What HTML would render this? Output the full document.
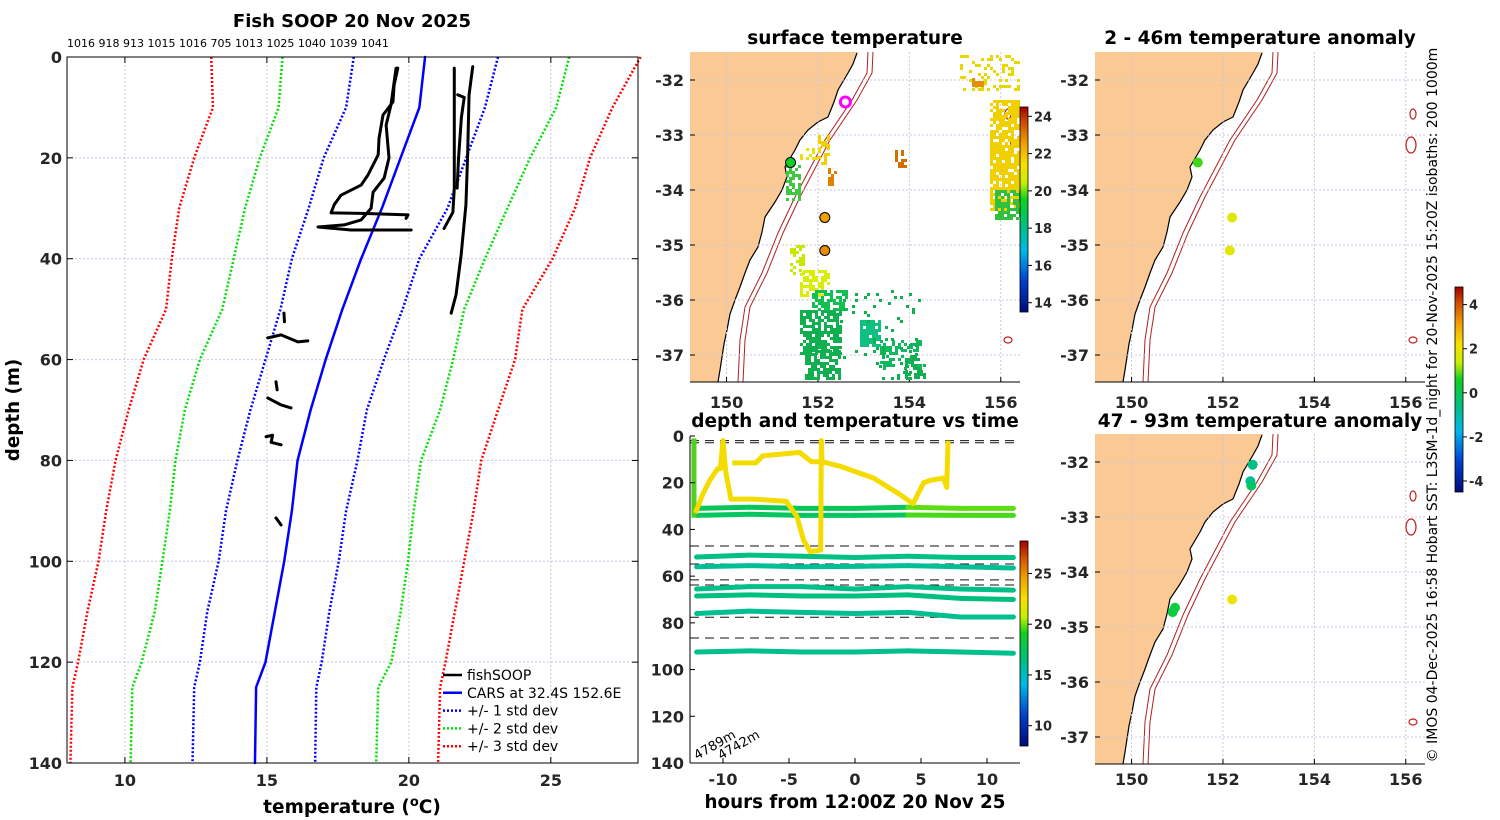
<!DOCTYPE html>
<html><head><meta charset="utf-8"><style>
html,body{margin:0;padding:0;background:#fff;}
svg{display:block;font-family:"DejaVu Sans","Liberation Sans",sans-serif;}
.t{font-weight:bold;fill:#262626;font-size:16px;}
.ti{font-weight:bold;fill:#000;font-size:16px;}
.n{font-weight:normal;fill:#000;}
</style></head><body>
<svg id="fig" width="1500" height="820" viewBox="0 0 1500 820" xmlns="http://www.w3.org/2000/svg">
<defs>
<linearGradient id="cmap" x1="0" y1="1" x2="0" y2="0">
<stop offset="0" stop-color="#000a78"/><stop offset="0.15" stop-color="#0040d0"/><stop offset="0.3" stop-color="#00b8e8"/>
<stop offset="0.42" stop-color="#00c080"/><stop offset="0.55" stop-color="#10d020"/><stop offset="0.63" stop-color="#c8f000"/>
<stop offset="0.72" stop-color="#f8e000"/><stop offset="0.82" stop-color="#f0a000"/><stop offset="0.92" stop-color="#d05000"/><stop offset="1" stop-color="#a00000"/>
</linearGradient>
</defs>
</svg>
<script>
// ---------- data ----------
const profDepth = [0,10,20,30,40,50,60,70,80,90,100,110,120,125,140];
const carsMean  = [20.57,20.37,19.71,19.05,18.32,17.66,17.07,16.54,16.08,15.88,15.61,15.28,14.95,14.62,14.58];
const std1Low   = [18.06,17.79,17.0,16.47,15.88,15.48,14.95,14.42,13.96,13.56,13.30,12.90,12.64,12.44,12.38];
const std1High  = [23.14,22.68,22.02,21.36,20.37,19.78,19.12,18.52,18.19,17.79,17.53,17.20,16.93,16.74,16.70];
const std2Low   = [15.55,15.41,14.75,14.23,13.83,13.43,12.64,12.11,11.78,11.58,11.32,11.05,10.59,10.26,10.20];
const std2High  = [25.65,25.19,24.27,23.47,22.68,21.95,21.56,21.10,20.43,20.17,19.97,19.71,19.38,18.92,18.85];
const std3Low   = [13.04,13.10,12.44,11.91,11.65,11.45,10.66,10.13,9.67,9.34,9.07,8.68,8.35,8.15,8.08];
const std3High  = [28.16,27.17,26.38,25.85,25.06,24.00,23.74,23.14,22.55,22.28,21.95,21.62,21.29,21.10,21.03];
const fishTemps = [
 [19.61,19.48,19.44,19.09,18.95,18.92,18.56,18.32,17.61,17.37,17.26,18.32,19.97,19.9],
 [19.55,19.37,19.2,19.3,19.13,18.74,18.67,18.32,17.72,16.8,17.96,20.08],
 [21.6,21.6,21.6,21.55,21.24],
 [22.25,22.12,22.07,22.01,21.84,21.66,21.49],
 [21.72,21.95,21.85,21.75,21.7],
 [15.6,15.62],[15.03,15.5,16.09,16.44],[15.32,15.36],[15.03,15.5,15.85],[14.97,15.2,15.15,15.5],[15.32,15.5]
];
const fishDepths = [
 [2.2,5.6,8.9,11.5,16.1,19.4,23.4,25.4,27.4,29.3,30.9,31,31.3,32],
 [2.2,9.5,13.5,20,24,26.8,30,32.3,33.3,33.7,34.3,34.3],
 [2.2,14,26,30.8,34],
 [1.9,7.5,19.4,29.3,39.3,47.2,50.8],
 [7.5,8,12,20,26],
 [50.8,52.5],[55.7,55.1,56.5,56.3],[64.4,66],[67.6,69,69.6],[75.3,75,76.4,76.9],[91.4,92.8]
];
const sensorHours = [-12,-8,-4,0,4,8,12];
const sensorDepths = [
 [31,30.5,31,31,30.5,31,31],
 [34,33.5,34,34,33.8,34,34],
 [51.8,51,51.5,52,51.5,52,52],
 [56,55.5,56,55.8,55.5,56,56.5],
 [65.5,64.5,64.5,65.5,64.5,65.5,66],
 [68.5,68,68.5,68.5,68,69.5,70],
 [76,75,75.5,76,75.5,77.5,77.5],
 [92.5,92,92.5,92.5,92,92.5,93]
];
const sensorTempsStart = [17.6,17.4,16.4,16.0,16.3,16.5,16.1,16.2];
const sensorTempsEnd   = [19.8,19.6,16.4,16.0,16.3,16.5,16.1,16.2];
const yellowHours  = [-12.1,-11.5,-11,-10.4,-10.2,-10,-9.8,-9.4,-7.7,-5.2,-4.4,-3.9,-3.4,-2.6,-2.55,-2.5,-1.1,1.4,3.4,4.4,5.2,5.7,6.7,6.95,7.05];
const yellowDepths = [33,24.5,19,14,14,2,15,27,27,28,34.5,44.5,49.5,48.8,2,11,13,18,25,29,20,19,18,22,2];
const yellow2Hours  = [-9.3,-7.5,-7,-4.2,-3.3,-2.5];
const yellow2Depths = [11.5,11.5,8.5,7,11,11];
const dashDepths = [2,2.9,47.1,54.8,61.6,63.8,77.6,86.5];
const sstLon = [152.6,151.4,152.15,152.15];
const sstLat = [-32.4,-33.5,-34.5,-35.1];
const sstVal = [null,19.5,22.5,22.8];
const anomTopLon=[151.45,152.2,152.15], anomTopLat=[-33.5,-34.5,-35.1], anomTopVal=[0.8,1.8,1.8];
const anomBotLon=[152.65,152.6,152.62,150.9,150.95,152.2], anomBotLat=[-32.05,-32.35,-32.43,-34.73,-34.65,-34.5], anomBotVal=[-0.6,-0.9,-0.3,0.2,0.2,2];
const tempTicks=[10,15,20,25], depthTicks=[0,20,40,60,80,100,120,140];
const hourTicks=[-10,-5,0,5,10], lonTicks=[150,152,154,156], latTicks=[-32,-33,-34,-35,-36,-37];
const headerNums="1016 918 913 1015 1016 705 1013 1025 1040 1039 1041";

// ---------- helpers ----------
const svg=document.getElementById('fig');
const NS='http://www.w3.org/2000/svg';
function mk(tag,at,parent){const e=document.createElementNS(NS,tag);for(const k in at)e.setAttribute(k,at[k]);(parent||svg).appendChild(e);return e;}
function txt(x,y,s,cls,anchor,extra){extra=Object.assign({},extra||{});if(extra['font-size']){extra.style='font-size:'+extra['font-size'];delete extra['font-size'];}
 const e=mk('text',Object.assign({x:x,y:y,class:cls,'text-anchor':anchor||'middle'},extra));e.textContent=s;return e;}
const stops=[[0,[0,10,120]],[0.15,[0,64,208]],[0.3,[0,184,232]],[0.42,[0,192,128]],[0.55,[16,208,32]],[0.63,[200,240,0]],[0.72,[248,224,0]],[0.82,[240,160,0]],[0.92,[208,80,0]],[1,[160,0,0]]];
function cm(f){f=Math.max(0,Math.min(1,f));for(let i=1;i<stops.length;i++){if(f<=stops[i][0]){const a=stops[i-1],b=stops[i],t=(f-a[0])/(b[0]-a[0]);return 'rgb('+a[1].map((v,j)=>Math.round(v+(b[1][j]-v)*t)).join(',')+')';}}return 'rgb(160,0,0)';}

// ---------- left profile panel ----------
const L={x0:67,x1:638,y0:57,y1:763,tmin:7.96,tmax:28.07,dmax:140};
const lx=t=>L.x0+(t-L.tmin)/(L.tmax-L.tmin)*(L.x1-L.x0);
const ly=d=>L.y0+d/L.dmax*(L.y1-L.y0);
let g=mk('g',{});


tempTicks.forEach(t=>{mk('line',{x1:lx(t),x2:lx(t),y1:L.y0,y2:L.y1,stroke:'#c8c8e0','stroke-dasharray':'2,2','stroke-width':1},g);
 mk('line',{x1:lx(t),x2:lx(t),y1:L.y1,y2:L.y1-6,stroke:'#000'},g);mk('line',{x1:lx(t),x2:lx(t),y1:L.y0,y2:L.y0+6,stroke:'#000'},g);
 const e=txt(lx(t),786,String(t),'t');});
depthTicks.forEach(d=>{if(d>0&&d<140)mk('line',{x1:L.x0,x2:L.x1,y1:ly(d),y2:ly(d),stroke:'#c8c8e0','stroke-dasharray':'2,2'},g);
 mk('line',{x1:L.x0,x2:L.x0+6,y1:ly(d),y2:ly(d),stroke:'#000'},g);mk('line',{x1:L.x1,x2:L.x1-6,y1:ly(d),y2:ly(d),stroke:'#000'},g);
 const e=txt(62,ly(d)+6,String(d),'t','end');});
function pline(ts,ds,col,w,dash,parent,name){const p=mk('polyline',{points:ts.map((t,i)=>lx(t)+','+ly(ds[i])).join(' '),fill:'none',stroke:col,'stroke-width':w,'stroke-linejoin':'round','stroke-linecap':dash?'butt':'round'},parent);if(dash)p.setAttribute('stroke-dasharray',dash);return p;}
pline(std3Low,profDepth,'#ff0000',2.5,'2,2',g,'std-dev-3-low');
pline(std3High,profDepth,'#ff0000',2.5,'2,2',g,'std-dev-3-high');
pline(std2Low,profDepth,'#00e000',2.5,'2,2',g,'std-dev-2-low');
pline(std2High,profDepth,'#00e000',2.5,'2,2',g,'std-dev-2-high');
pline(std1Low,profDepth,'#0000ff',2.5,'2,2',g,'std-dev-1-low');
pline(std1High,profDepth,'#0000ff',2.5,'2,2',g,'std-dev-1-high');
pline(carsMean,profDepth,'#0000ff',2.5,null,g,'cars-mean-line');
fishTemps.forEach((ts,i)=>pline(ts,fishDepths[i],'#000',3,null,g,'fishsoop-profile'));
mk('rect',{x:L.x0,y:L.y0,width:L.x1-L.x0,height:L.y1-L.y0,fill:'none',stroke:'#000','stroke-width':1},g);
let e=txt(352,27,'Fish SOOP 20 Nov 2025','ti','middle',{'font-size':'18px'});
e=txt(67,47,headerNums,'n','start',{'font-size':'11px'});
e=txt(19,410,'depth (m)','ti','middle',{transform:'rotate(-90 19 410)','font-size':'18.3px'});
e=mk('text',{x:352,y:813,class:'ti','text-anchor':'middle',style:'font-size:18.5px'});e.innerHTML='temperature (<tspan dy="-7" style="font-size:13px">o</tspan><tspan dy="7">C)</tspan>';

// legend
const lg=mk('g',{});


[['fishSOOP','#000',null],['CARS at 32.4S 152.6E','#0000ff',null],['+/- 1 std dev','#0000ff','2,2'],['+/- 2 std dev','#00e000','2,2'],['+/- 3 std dev','#ff0000','2,2']].forEach((r,i)=>{
 const y=675+i*17.8;const l=mk('line',{x1:443,x2:462,y1:y,y2:y,stroke:r[1],'stroke-width':2.5},lg);if(r[2])l.setAttribute('stroke-dasharray',r[2]);
 const t=txt(467,y+5,r[0],'n','start',{'font-size':'14px'});lg.appendChild(t);});

// ---------- maps ----------
const coast=[[0,0],[170,0],[167,1],[163,12],[158,21],[148,38],[144,50],[138,65],[128,70],[118,78],[110,88],[105,98],[95,115],[97,125],[92,138],[85,150],[75,165],[72,180],[68,195],[60,208],[55,221],[50,235],[45,248],[40,262],[37,278],[34,292],[32,305],[30,318],[28,330],[0,330]];
const iso=[[178,0],[177,21],[162,48],[135,88],[105,145],[88,181],[72,221],[55,255],[50,288],[48,330]];
function drawMap(ox,oy,name,lonY){
 const G=mk('g',{});
 const mx=lon=>ox+(lon-149.2)*45.7, my=lat=>oy+28+(-32-lat)*55;
 mk('polygon',{points:coast.map(p=>(ox+p[0])+','+(oy+p[1])).join(' '),fill:'#fbc994',stroke:'none'},G);
 mk('polyline',{points:coast.slice(2,-1).map(p=>(ox+p[0])+','+(oy+p[1])).join(' '),fill:'none',stroke:'#000','stroke-width':1.2},G);
 [0,5].forEach(d=>mk('polyline',{points:iso.map(p=>(ox+p[0]+d)+','+(oy+p[1])).join(' '),fill:'none',stroke:'#b02020','stroke-width':1},G));
 lonTicks.forEach(l=>{mk('line',{x1:mx(l),x2:mx(l),y1:oy,y2:oy+330,stroke:'#c8c8e0','stroke-dasharray':'2,2'},G);mk('line',{x1:mx(l),x2:mx(l),y1:oy+330,y2:oy+325,stroke:'#000'},G);
  const t=txt(mx(l),lonY,String(l),'t');});
 latTicks.forEach(l=>{mk('line',{x1:ox,x2:ox+330,y1:my(l),y2:my(l),stroke:'#c8c8e0','stroke-dasharray':'2,2'},G);mk('line',{x1:ox,x2:ox+5,y1:my(l),y2:my(l),stroke:'#000'},G);
  const t=txt(ox-6,my(l)+6,String(l),'t','end');});
 [[318,62,3,5],[316,93,5,8],[318,288,4,3]].forEach(c=>mk('ellipse',{cx:ox+c[0],cy:oy+c[1],rx:c[2],ry:c[3],fill:'none',stroke:'#c02020','stroke-width':1.2},G));
 mk('line',{x1:ox,x2:ox+330,y1:oy+330,y2:oy+330,stroke:'#000'},G);
 return {G,mx,my};
}
const m1=drawMap(690,52,'sst-map',408);
const m2=drawMap(1095,52,'anomaly-map-2-46m',408);
const m3=drawMap(1095,434,'anomaly-map-47-93m',785);
// SST satellite pixel patches (speckled imagery)
const sstPatches=[[990,100,30,110,'#f0d000',0.8],[960,55,60,35,'#e8d800',0.25],[972,78,10,8,'#e09000',0.8],[995,190,25,30,'#30c040',0.7],[895,150,12,18,'#d07000',0.5],[828,165,8,20,'#e08000',0.5],[818,135,12,30,'#f0d000',0.5],[786,165,14,35,'#40c840',0.6],[800,148,20,12,'#f0e000',0.4],[790,245,14,30,'#c8e800',0.5],[800,270,30,25,'#d8f000',0.6],[812,290,35,20,'#10c050',0.6],[800,310,40,45,'#10b050',0.75],[805,350,35,30,'#10b050',0.75],[860,320,20,25,'#10c080',0.8],[880,340,40,30,'#10b860',0.45],[905,355,20,22,'#10b050',0.5],[840,290,80,90,'#10b050',0.08]];
function hsh(a,b){let h=(a*374761393+b*668265263)|0;h=(h^(h>>>13))*1274126177|0;return ((h^(h>>>16))>>>0)/4294967296;}
const sg=mk('g',{},m1.G);


sstPatches.forEach((p,k)=>{for(let x=p[0];x<p[0]+p[2];x+=3)for(let y=p[1];y<p[1]+p[3];y+=3){if(hsh(x+k*7,y)<p[5])mk('rect',{x:x,y:y,width:3,height:3,fill:p[4]},sg);}});
function dot(map,lon,lat,col,r,outline,name){const c=mk('circle',{cx:map.mx(lon),cy:map.my(lat),r:r,fill:col,stroke:outline||'none','stroke-width':1},map.G);return c;}
sstLon.forEach((l,i)=>{if(sstVal[i]===null){const c=dot(m1,l,sstLat[i],'none',5,'#ff00ff','current-position');c.setAttribute('stroke-width','3');}
 else dot(m1,l,sstLat[i],cm((sstVal[i]-13.5)/11),5,'#000','sst-marker');});
anomTopLon.forEach((l,i)=>dot(m2,l,anomTopLat[i],cm((anomTopVal[i]+4.5)/9.3),5,null,'anomaly-marker'));
anomBotLon.forEach((l,i)=>dot(m3,l,anomBotLat[i],cm((anomBotVal[i]+4.5)/9.3),5,null,'anomaly-marker'));

// ---------- time series ----------
const T={x0:690,x1:1020,y0:436,y1:763};
const tx=h=>T.x0+(h+12.5)/25*(T.x1-T.x0);
const ty=d=>T.y0+d/140*(T.y1-T.y0);
const tg=mk('g',{});


dashDepths.forEach(d=>mk('line',{x1:T.x0,x2:T.x1,y1:ty(d),y2:ty(d),stroke:'#111','stroke-dasharray':'9,6','stroke-width':1},tg));
sensorDepths.forEach((ds,i)=>{for(let k=0;k<ds.length-1;k++){
 const temp=k>=4?sensorTempsEnd[i]:sensorTempsStart[i];
 const s=mk('line',{x1:tx(sensorHours[k]),y1:ty(ds[k]),x2:tx(sensorHours[k+1]),y2:ty(ds[k+1]),stroke:cm((temp-8)/20.2),'stroke-width':5,'stroke-linecap':'round'},tg);
 }});
let vz=mk('line',{x1:tx(-12.2),x2:tx(-12.2),y1:ty(1),y2:ty(35),stroke:'#50d020','stroke-width':5},tg);


[[yellowHours,yellowDepths],[yellow2Hours,yellow2Depths]].forEach(([hs,ds])=>{const p=mk('polyline',{points:hs.map((h,i)=>tx(h)+','+ty(ds[i])).join(' '),fill:'none',stroke:'#f4dc00','stroke-width':5,'stroke-linejoin':'round'},tg);
 });
mk('line',{x1:T.x0,x2:T.x0,y1:T.y0,y2:T.y1,stroke:'#000'},tg);mk('line',{x1:T.x0,x2:T.x1,y1:T.y1,y2:T.y1,stroke:'#000'},tg);
depthTicks.forEach(d=>{mk('line',{x1:T.x0,x2:T.x0+5,y1:ty(d),y2:ty(d),stroke:'#000'},tg);const t=txt(684,ty(d)+6,String(d),'t','end');});
hourTicks.forEach(h=>{mk('line',{x1:tx(h),x2:tx(h),y1:T.y1,y2:T.y1-5,stroke:'#000'},tg);const t=txt(tx(h),785,String(h),'t');});
e=txt(697,760,'4789m','n','start',{'font-size':'13px',transform:'rotate(-30 697 760)'});
e=txt(721,760,'4742m','n','start',{'font-size':'13px',transform:'rotate(-30 721 760)'});
e=txt(855,808,'hours from 12:00Z 20 Nov 25','ti','middle',{'font-size':'18.3px'});

// ---------- titles ----------
[[855,44,'surface temperature','sst-title'],[855,427,'depth and temperature vs time','time-title'],[1260,44,'2 - 46m temperature anomaly','anomaly-top-title'],[1260,427,'47 - 93m temperature anomaly','anomaly-bottom-title']].forEach(a=>{const t=txt(a[0],a[1],a[2],'ti','middle',{'font-size':'18.5px'});});

// ---------- colorbars ----------
function cbar(x,y0,y1,vmin,vmax,ticks,name){const G=mk('g',{});
 mk('rect',{x:x,y:y0,width:8,height:y1-y0,fill:'url(#cmap)',stroke:'#000','stroke-width':0.8},G);
 ticks.forEach(v=>{const y=y1-(v-vmin)/(vmax-vmin)*(y1-y0);mk('line',{x1:x+8,x2:x+12,y1:y,y2:y,stroke:'#000'},G);
  const t=txt(x+14,y+5,String(v),'t','start',{'font-size':'13px'});G.appendChild(t);});}
cbar(1020,107,312,13.5,24.5,[14,16,18,20,22,24],'sst-colorbar');
cbar(1020,541,746,8,28.2,[10,15,20,25],'temp-colorbar');
cbar(1455,287,492,-4.5,4.8,[-4,-2,0,2,4],'anomaly-colorbar');
e=txt(1437,405,'© IMOS 04-Dec-2025 16:58 Hobart SST: L3SM-1d_night for 20-Nov-2025 15:20Z isobaths: 200  1000m','n','middle',{'font-size':'14px',transform:'rotate(-90 1437 405)'});

</script>
</body></html>
